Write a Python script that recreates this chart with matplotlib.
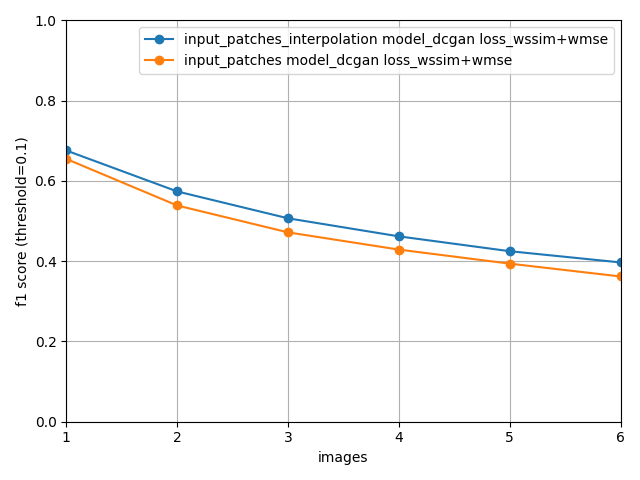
import matplotlib
matplotlib.use("Agg")
import matplotlib.pyplot as plt

images = [1, 2, 3, 4, 5, 6]
interp_f1 = [0.676, 0.574, 0.507, 0.462, 0.425, 0.397]
patches_f1 = [0.655, 0.539, 0.472, 0.429, 0.394, 0.362]

fig, ax = plt.subplots(figsize=(6.4, 4.8), dpi=100)
ax.plot(images, interp_f1, marker="o", label="input_patches_interpolation model_dcgan loss_wssim+wmse")
ax.plot(images, patches_f1, marker="o", label="input_patches model_dcgan loss_wssim+wmse")
ax.set_xlim(1, 6)
ax.set_ylim(0, 1.0)
ax.set_xlabel("images")
ax.set_ylabel("f1 score (threshold=0.1)")
ax.grid(True)
ax.legend(loc="upper right")
fig.tight_layout()
fig.savefig("out.png")
